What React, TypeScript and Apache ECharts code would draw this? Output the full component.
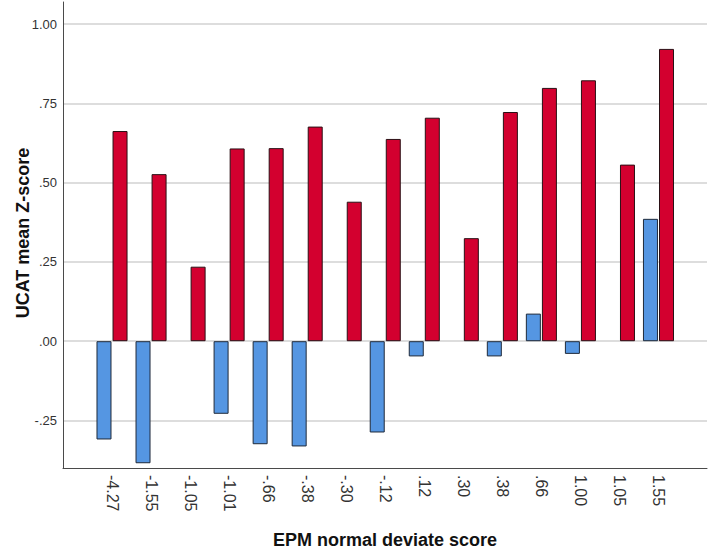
import React, { useEffect, useRef } from "react";
import * as echarts from "echarts";

const categories = ["-4.27", "-1.55", "-1.05", "-1.01", "-.66", "-.38", "-.30", "-.12", ".12", ".30", ".38", ".66", "1.00", "1.05", "1.55"];
const blueValues = [-0.31, -0.385, null, -0.229, -0.325, -0.332, null, -0.288, -0.048, null, -0.048, 0.087, -0.04, null, 0.386];
const redValues = [0.663, 0.527, 0.235, 0.608, 0.609, 0.677, 0.44, 0.638, 0.705, 0.325, 0.723, 0.799, 0.823, 0.557, 0.922];
const yTicks = [-0.25, 0, 0.25, 0.5, 0.75, 1.0];
const yMin = -0.4;
const yMax = 1.07;

const fmt = (v: number) => {
  const s = Math.abs(v).toFixed(2).replace(/^0/, "");
  return (v < 0 ? "-" : "") + s;
};

export default function App() {
  const ref = useRef<HTMLDivElement>(null);
  useEffect(() => {
    if (!ref.current) return;
    const chart = echarts.init(ref.current, null, { renderer: "svg" });
    const font = "'Liberation Sans', Arial, sans-serif";
    chart.setOption({
      animation: false,
      backgroundColor: "#ffffff",
      grid: [
        { left: 63, right: 2, top: 2, bottom: 81 },
        { left: 92.5, right: 31, top: 2, bottom: 81 },
      ],
      xAxis: [
        {
          gridIndex: 0,
          type: "value",
          min: 0,
          max: 1,
          axisLine: { show: true, onZero: false, lineStyle: { color: "#4a4a4a", width: 1 } },
          axisTick: { show: false },
          axisLabel: { show: false },
          splitLine: { show: false },
        },
        {
          gridIndex: 1,
          type: "category",
          data: categories,
          axisLine: { show: false },
          axisTick: { show: false },
          axisLabel: {
            rotate: -90,
            interval: 0,
            margin: 7,
            fontSize: 16,
            color: "#333333",
            fontFamily: font,
          },
        },
      ],
      yAxis: [
        {
          gridIndex: 0,
          type: "value",
          min: yMin,
          max: yMax,
          axisLine: { show: true, lineStyle: { color: "#4a4a4a", width: 1 } },
          axisTick: { show: false, customValues: yTicks },
          axisLabel: {
            customValues: yTicks,
            formatter: (v: number) => fmt(v),
            fontSize: 13,
            color: "#333333",
            margin: 6,
            fontFamily: font,
          },
          splitLine: { show: true, lineStyle: { color: "#d2d2d2", width: 1.5 } },
        },
        {
          gridIndex: 1,
          type: "value",
          min: yMin,
          max: yMax,
          show: false,
          splitLine: { show: false },
        },
      ],
      graphic: [
        {
          type: "text",
          x: 23,
          y: 233,
          rotation: Math.PI / 2,
          style: {
            text: "UCAT mean Z-score",
            fontSize: 18,
            fontWeight: "bold",
            fontFamily: font,
            fill: "#111111",
            align: "center",
            verticalAlign: "middle",
          },
        },
        {
          type: "text",
          x: 385,
          y: 540,
          style: {
            text: "EPM normal deviate score",
            fontSize: 18,
            fontWeight: "bold",
            fontFamily: font,
            fill: "#111111",
            align: "center",
            verticalAlign: "middle",
          },
        },
      ],
      series: [
        {
          type: "bar",
          xAxisIndex: 1,
          yAxisIndex: 1,
          data: blueValues,
          barWidth: 15,
          barGap: "7%",
          itemStyle: { color: "#5596e2", borderColor: "#1f2a3a", borderWidth: 1 },
        },
        {
          type: "bar",
          xAxisIndex: 1,
          yAxisIndex: 1,
          data: redValues,
          barWidth: 15,
          barGap: "7%",
          itemStyle: { color: "#d3002f", borderColor: "#2a1015", borderWidth: 1 },
        },
      ],
    });
    return () => chart.dispose();
  }, []);
  return <div ref={ref} style={{ width: 709, height: 549, position: "absolute", left: 0, top: 0 }} />;
}
